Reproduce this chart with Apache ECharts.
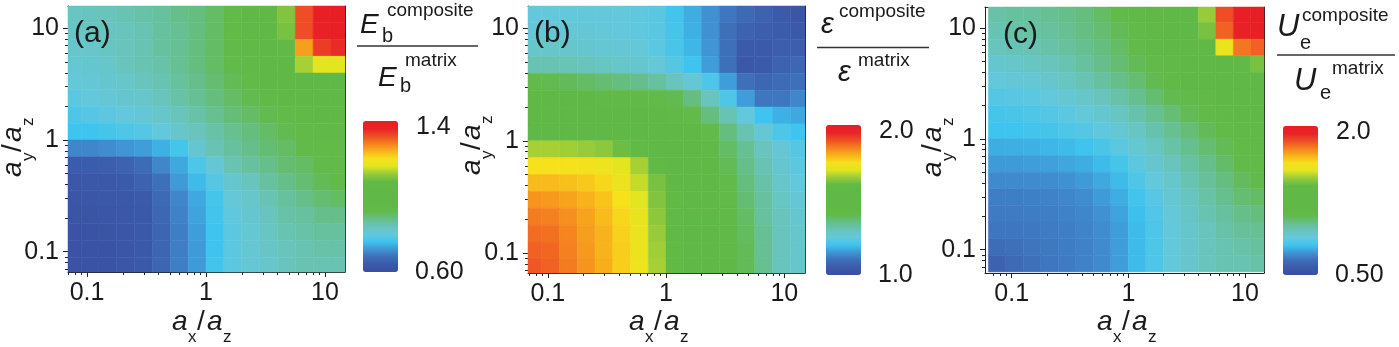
<!DOCTYPE html>
<html><head><meta charset="utf-8">
<script src="https://cdn.jsdelivr.net/npm/echarts@6/dist/echarts.min.js"></script>
<style>html,body{margin:0;padding:0;background:#fff}#c{width:1399px;height:347px}</style>
</head><body><div id="c"></div><script>
// ---- data ----
// cell centres in log10 units (step 0.15)
const colLogs = [-1.125,-0.975,-0.825,-0.675,-0.525,-0.375,-0.225,-0.075,0.075,0.225,0.375,0.525,0.675,0.825,0.975,1.125]; // log10(ax/az)
const rowLogs = [1.125,0.975,0.825,0.675,0.525,0.375,0.225,0.075,-0.075,-0.225,-0.375,-0.525,-0.675,-0.825,-0.975,-1.125]; // log10(ay/az), top -> bottom
const cellStep = 0.15;
const majorTicks = [0.1, 1, 10];
const minorTicks = [0.07,0.08,0.09,0.2,0.3,0.4,0.5,0.6,0.7,0.8,0.9,2,3,4,5,6,7,8,9];

// (a) Eb composite / Eb matrix
const valuesA = [
 [0.832,0.836,0.84,0.848,0.856,0.864,0.88,0.888,0.904,0.928,0.952,0.992,1.104,1.32,1.384,1.4],
 [0.828,0.832,0.836,0.84,0.848,0.864,0.872,0.888,0.904,0.928,0.944,0.976,1.096,1.32,1.376,1.392],
 [0.82,0.824,0.832,0.84,0.848,0.864,0.872,0.888,0.904,0.92,0.944,0.968,1.08,1.256,1.336,1.352],
 [0.812,0.816,0.824,0.84,0.848,0.856,0.872,0.888,0.904,0.92,0.936,0.96,1.016,1.128,1.16,1.16],
 [0.804,0.808,0.816,0.824,0.84,0.848,0.864,0.88,0.896,0.912,0.928,0.952,0.976,0.992,1.0,1.0],
 [0.792,0.8,0.808,0.816,0.824,0.84,0.856,0.872,0.888,0.904,0.916,0.936,0.952,0.968,0.976,0.976],
 [0.776,0.784,0.792,0.8,0.808,0.824,0.84,0.856,0.876,0.892,0.904,0.916,0.928,0.944,0.952,0.96],
 [0.76,0.76,0.768,0.776,0.784,0.8,0.824,0.84,0.856,0.876,0.888,0.904,0.916,0.928,0.936,0.944],
 [0.704,0.704,0.712,0.72,0.728,0.744,0.768,0.816,0.848,0.864,0.88,0.896,0.904,0.92,0.928,0.928],
 [0.644,0.644,0.648,0.656,0.672,0.704,0.736,0.776,0.808,0.848,0.864,0.88,0.896,0.904,0.92,0.92],
 [0.628,0.628,0.632,0.64,0.656,0.68,0.724,0.752,0.784,0.816,0.84,0.864,0.88,0.896,0.912,0.92],
 [0.624,0.624,0.628,0.632,0.64,0.668,0.704,0.736,0.768,0.804,0.824,0.848,0.864,0.88,0.896,0.904],
 [0.62,0.62,0.624,0.628,0.636,0.664,0.7,0.732,0.764,0.796,0.816,0.836,0.856,0.864,0.88,0.88],
 [0.616,0.616,0.62,0.624,0.636,0.66,0.696,0.728,0.76,0.792,0.812,0.832,0.848,0.856,0.864,0.864],
 [0.616,0.616,0.616,0.624,0.636,0.66,0.696,0.724,0.76,0.792,0.812,0.828,0.84,0.848,0.856,0.856],
 [0.616,0.616,0.616,0.624,0.636,0.66,0.696,0.724,0.764,0.792,0.81,0.824,0.84,0.848,0.848,0.848]
];
// (b) eps composite / eps matrix
const valuesB = [
 [1.25,1.25,1.25,1.25,1.25,1.25,1.245,1.235,1.205,1.175,1.145,1.11,1.085,1.07,1.05,1.03],
 [1.26,1.26,1.26,1.26,1.255,1.25,1.245,1.235,1.21,1.18,1.145,1.1,1.07,1.06,1.055,1.045],
 [1.28,1.28,1.275,1.27,1.265,1.26,1.255,1.24,1.215,1.185,1.15,1.1,1.05,1.05,1.06,1.06],
 [1.31,1.31,1.305,1.3,1.29,1.28,1.27,1.255,1.23,1.2,1.16,1.1,1.04,1.05,1.07,1.08],
 [1.4,1.395,1.39,1.38,1.37,1.36,1.35,1.33,1.3,1.26,1.22,1.16,1.1,1.08,1.09,1.1],
 [1.45,1.45,1.445,1.44,1.435,1.43,1.42,1.41,1.395,1.36,1.3,1.22,1.16,1.11,1.11,1.13],
 [1.49,1.49,1.485,1.48,1.475,1.47,1.46,1.45,1.43,1.4,1.36,1.31,1.25,1.2,1.18,1.17],
 [1.56,1.56,1.555,1.55,1.54,1.535,1.53,1.52,1.5,1.45,1.41,1.36,1.31,1.26,1.22,1.2],
 [1.66,1.66,1.655,1.65,1.64,1.61,1.58,1.56,1.53,1.49,1.43,1.38,1.34,1.3,1.26,1.23],
 [1.75,1.75,1.745,1.74,1.73,1.7,1.66,1.59,1.55,1.49,1.44,1.39,1.35,1.31,1.27,1.24],
 [1.79,1.79,1.785,1.775,1.76,1.72,1.68,1.62,1.56,1.5,1.45,1.4,1.36,1.32,1.28,1.25],
 [1.83,1.825,1.815,1.8,1.78,1.75,1.7,1.63,1.57,1.51,1.46,1.41,1.37,1.33,1.29,1.26],
 [1.855,1.85,1.835,1.815,1.79,1.76,1.71,1.64,1.58,1.52,1.47,1.42,1.38,1.33,1.3,1.27],
 [1.87,1.865,1.845,1.82,1.8,1.765,1.72,1.65,1.585,1.525,1.47,1.43,1.385,1.34,1.3,1.275],
 [1.88,1.875,1.85,1.825,1.8,1.77,1.72,1.655,1.59,1.53,1.475,1.435,1.39,1.34,1.3,1.28],
 [1.89,1.88,1.855,1.83,1.805,1.77,1.725,1.66,1.59,1.53,1.48,1.44,1.39,1.345,1.3,1.28]
];
// (c) Ue composite / Ue matrix
const valuesC = [
 [0.98,0.995,0.995,1.01,1.025,1.04,1.07,1.1,1.13,1.16,1.19,1.25,1.475,1.85,1.97,2.0],
 [0.965,0.98,0.988,0.995,1.01,1.033,1.055,1.085,1.115,1.153,1.183,1.235,1.43,1.82,1.955,1.985],
 [0.95,0.958,0.965,0.98,0.995,1.018,1.04,1.07,1.1,1.138,1.175,1.22,1.325,1.58,1.79,1.82],
 [0.905,0.92,0.935,0.95,0.965,0.995,1.025,1.055,1.085,1.115,1.153,1.19,1.235,1.325,1.4,1.43],
 [0.875,0.89,0.898,0.913,0.935,0.965,0.995,1.025,1.055,1.093,1.13,1.16,1.19,1.22,1.25,1.25],
 [0.845,0.853,0.86,0.875,0.898,0.92,0.95,0.98,1.018,1.055,1.093,1.123,1.153,1.183,1.198,1.205],
 [0.815,0.823,0.83,0.845,0.86,0.883,0.905,0.935,0.973,1.01,1.048,1.085,1.115,1.145,1.16,1.175],
 [0.8,0.8,0.808,0.815,0.83,0.845,0.868,0.898,0.935,0.973,1.01,1.048,1.085,1.115,1.138,1.145],
 [0.763,0.767,0.77,0.778,0.785,0.8,0.823,0.86,0.898,0.935,0.98,1.018,1.055,1.085,1.115,1.13],
 [0.733,0.733,0.737,0.743,0.752,0.763,0.785,0.815,0.86,0.905,0.95,0.988,1.025,1.063,1.1,1.115],
 [0.703,0.703,0.706,0.71,0.718,0.733,0.755,0.785,0.83,0.875,0.92,0.965,1.003,1.04,1.078,1.1],
 [0.68,0.68,0.683,0.688,0.695,0.71,0.733,0.763,0.808,0.853,0.898,0.943,0.98,1.018,1.055,1.07],
 [0.673,0.673,0.676,0.68,0.688,0.698,0.718,0.748,0.793,0.838,0.883,0.928,0.965,0.995,1.025,1.04],
 [0.665,0.665,0.668,0.673,0.68,0.692,0.71,0.74,0.785,0.83,0.875,0.92,0.95,0.98,1.003,1.01],
 [0.643,0.65,0.662,0.67,0.677,0.688,0.706,0.74,0.785,0.83,0.875,0.913,0.95,0.965,0.98,0.995],
 [0.605,0.628,0.65,0.665,0.673,0.688,0.703,0.74,0.785,0.83,0.875,0.913,0.95,0.965,0.965,0.98]
];
const rangeA = [0.6, 1.4], rangeB = [1.0, 2.0], rangeC = [0.5, 2.0];
const barLabelsA = ['1.4', '0.60'], barLabelsB = ['2.0', '1.0'], barLabelsC = ['2.0', '0.50'];
const panelLetters = ['(a)', '(b)', '(c)'];
const palette = ['#3a4fa0','#3b5aaa','#3e6fb9','#3f95d5','#3ec4ee','#64c8dc','#68c4bc','#66bf8a',
  '#62ba4a','#60b946','#60b946','#60b946','#62ba46','#98cb3a','#e2e520','#f7e01c','#f8b21b',
  '#f4801f','#ee4d25','#e82327','#e81e25'];

// ---- layout ----
const FONT = '"Liberation Sans", Arial, sans-serif';
const INK = '#1a1a1a';
const panels = [
  {values: valuesA, range: rangeA, labels: barLabelsA,
   grid: {left: 68, top: 6, width: 277, height: 266}, xr: [-1.16, 1.168], yr: [-1.182, 1.2],
   bar: {x: 363, y: 121, h: 151}, letter: [74, 34], xt: [172, 332], yt: [23, 177]},
  {values: valuesB, range: rangeB, labels: barLabelsB,
   grid: {left: 528, top: 6, width: 277, height: 267}, xr: [-1.167, 1.175], yr: [-1.175, 1.198],
   bar: {x: 826, y: 125, h: 150}, letter: [534, 34], xt: [629, 332], yt: [482, 175]},
  {values: valuesC, range: rangeC, labels: barLabelsC,
   grid: {left: 985, top: 7, width: 279, height: 266}, xr: [-1.229, 1.163], yr: [-1.21, 1.19],
   bar: {x: 1283, y: 126, h: 149}, letter: [1003, 35], xt: [1097, 332], yt: [943, 177]}
];

function fmtTick(v) {
  const l = Math.log10(v);
  if (Math.abs(l - Math.round(l)) > 1e-6) return '';
  return v < 1 ? '0.1' : String(Math.round(v));
}

const grids = [], xAxes = [], yAxes = [], series = [], visualMaps = [], graphics = [];

function t(x, baseline, s, size, italic) {
  return {type: 'text', x: x, y: baseline - 0.3465 * size, silent: true,
    style: {text: s, font: (italic ? 'italic ' : '') + size + 'px ' + FONT, fill: INK, align: 'left', verticalAlign: 'middle'}};
}

panels.forEach(function (p, i) {
  grids.push(p.grid);
  const axisBase = {gridIndex: i, type: 'log', logBase: 10, splitLine: {show: false}, minorSplitLine: {show: false}};
  const axLine = {show: true, onZero: false, lineStyle: {color: '#222', width: 1}};
  const mkMain = function (r, pos) {
    return Object.assign({}, axisBase, {
      position: pos, min: Math.pow(10, r[0]), max: Math.pow(10, r[1]),
      axisLine: axLine,
      axisTick: {show: true, inside: false, length: 5, customValues: majorTicks, lineStyle: {color: '#222'}},
      minorTick: {show: false},
      axisLabel: {show: true, customValues: majorTicks, formatter: fmtTick, fontSize: 25, fontFamily: FONT, color: INK, margin: 9}
    });
  };
  const mkMinor = function (r, pos) {
    return Object.assign({}, axisBase, {
      position: pos, min: Math.pow(10, r[0]), max: Math.pow(10, r[1]),
      axisLine: {show: false},
      axisTick: {show: true, inside: false, length: 3, customValues: minorTicks, lineStyle: {color: '#222'}},
      minorTick: {show: false}, axisLabel: {show: false}
    });
  };
  const mkFrame = function (r, pos) {
    return Object.assign({}, axisBase, {
      position: pos, min: Math.pow(10, r[0]), max: Math.pow(10, r[1]),
      axisLine: axLine, axisTick: {show: false}, minorTick: {show: false}, axisLabel: {show: false}
    });
  };
  const xMain = xAxes.length;
  xAxes.push(mkMain(p.xr, 'bottom'), mkMinor(p.xr, 'bottom'), mkFrame(p.xr, 'top'));
  const yMain = yAxes.length;
  yAxes.push(mkMain(p.yr, 'left'), mkMinor(p.yr, 'left'), mkFrame(p.yr, 'right'));

  const data = [];
  rowLogs.forEach(function (ry, r) {
    colLogs.forEach(function (cx, c) {
      data.push([Math.pow(10, cx), Math.pow(10, ry), p.values[r][c]]);
    });
  });
  series.push({
    type: 'custom', xAxisIndex: xMain, yAxisIndex: yMain, data: data, silent: true,
    encode: {x: 0, y: 1},
    renderItem: function (params, api) {
      const lx = Math.log10(api.value(0)), ly = Math.log10(api.value(1));
      const h = cellStep / 2;
      const a = api.coord([Math.pow(10, lx - h), Math.pow(10, ly + h)]);
      const b = api.coord([Math.pow(10, lx + h), Math.pow(10, ly - h)]);
      const cs = params.coordSys;
      const rect = echarts.graphic.clipRectByRect(
        {x: a[0], y: a[1], width: b[0] - a[0], height: b[1] - a[1]},
        {x: cs.x, y: cs.y, width: cs.width, height: cs.height});
      if (!rect) return;
      const col = api.visual('color');
      return {type: 'rect', shape: rect, style: {fill: col, stroke: col, lineWidth: 0.5}};
    }
  });
  visualMaps.push({
    type: 'continuous', seriesIndex: i, dimension: 2, min: p.range[0], max: p.range[1],
    inRange: {color: palette}, orient: 'vertical', left: p.bar.x, top: p.bar.y,
    itemWidth: 35, itemHeight: p.bar.h, calculable: false, hoverLink: false, padding: 0,
    text: null, show: true
  });
  graphics.push({type: 'text', x: p.bar.x + 53, y: p.bar.y + 6, silent: true,
    style: {text: p.labels[0], font: '25px ' + FONT, fill: INK, align: 'left', verticalAlign: 'middle'}});
  graphics.push({type: 'text', x: p.bar.x + 52, y: p.bar.y + p.bar.h, silent: true,
    style: {text: p.labels[1], font: '25px ' + FONT, fill: INK, align: 'left', verticalAlign: 'middle'}});
  graphics.push({type: 'text', x: p.letter[0], y: p.letter[1], silent: true, z: 10,
    style: {text: panelLetters[i], font: '30px ' + FONT, fill: INK, align: 'left', verticalAlign: 'middle'}});
  const xb = p.xt[0], yb = p.xt[1];
  graphics.push(t(xb, yb, 'a', 28, true), t(xb + 16, yb + 11, 'x', 17, false),
    t(xb + 25, yb, '/', 28, false), t(xb + 35, yb, 'a', 28, true), t(xb + 51, yb + 11, 'z', 17, false));
  graphics.push({type: 'group', x: p.yt[0], y: p.yt[1], rotation: Math.PI / 2, silent: true,
    children: [t(0, 0, 'a', 28, true), t(16, 11, 'y', 17, false), t(25, 0, '/', 28, false),
      t(35, 0, 'a', 28, true), t(51, 11, 'z', 17, false)]});
});

graphics.push(t(360, 35, 'E', 28, true), t(387, 17, 'composite', 19, false), t(382, 43, 'b', 20, false),
  {type: 'line', shape: {x1: 357, y1: 46, x2: 478, y2: 46}, style: {stroke: '#333', lineWidth: 1.5}, silent: true},
  t(378, 88, 'E', 28, true), t(405, 67, 'matrix', 19, false), t(400, 93, 'b', 20, false));
graphics.push(t(821, 35, 'ε', 29, true), t(839, 18, 'composite', 19, false),
  {type: 'line', shape: {x1: 817, y1: 47.5, x2: 929, y2: 47.5}, style: {stroke: '#333', lineWidth: 1.5}, silent: true},
  t(838, 83, 'ε', 29, true), t(858, 67, 'matrix', 19, false));
graphics.push(t(1277, 38, 'U', 31, true), t(1302, 22, 'composite', 19, false), t(1300, 50, 'e', 20, false),
  {type: 'line', shape: {x1: 1277, y1: 55, x2: 1395, y2: 55}, style: {stroke: '#333', lineWidth: 1.5}, silent: true},
  t(1294, 92, 'U', 31, true), t(1332, 75, 'matrix', 19, false), t(1320, 100, 'e', 20, false));

const chart = echarts.init(document.getElementById('c'), null, {renderer: 'canvas'});
chart.setOption({
  animation: false, backgroundColor: '#fff',
  grid: grids, xAxis: xAxes, yAxis: yAxes, visualMap: visualMaps, series: series, graphic: graphics
});
</script></body></html>
